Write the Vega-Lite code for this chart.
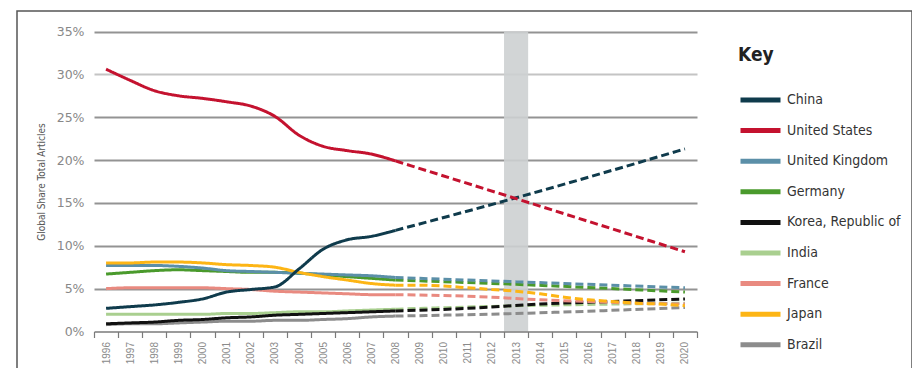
{
  "$schema": "https://vega.github.io/schema/vega-lite/v6.json",
  "autosize": "none",
  "padding": {"left": 17, "top": 11, "right": 0, "bottom": 0},
  "width": 895,
  "height": 370,
  "config": {
    "view": {"stroke": "#555555", "strokeWidth": 1.5},
    "font": "Liberation Sans"
  },
  "data": {
    "values": [
      {"country": "Brazil", "phase": "actual", "year": 1996, "share": 0.008},
      {"country": "Brazil", "phase": "actual", "year": 1997, "share": 0.009},
      {"country": "Brazil", "phase": "actual", "year": 1998, "share": 0.009},
      {"country": "Brazil", "phase": "actual", "year": 1999, "share": 0.010},
      {"country": "Brazil", "phase": "actual", "year": 2000, "share": 0.011},
      {"country": "Brazil", "phase": "actual", "year": 2001, "share": 0.012},
      {"country": "Brazil", "phase": "actual", "year": 2002, "share": 0.012},
      {"country": "Brazil", "phase": "actual", "year": 2003, "share": 0.013},
      {"country": "Brazil", "phase": "actual", "year": 2004, "share": 0.013},
      {"country": "Brazil", "phase": "actual", "year": 2005, "share": 0.014},
      {"country": "Brazil", "phase": "actual", "year": 2006, "share": 0.015},
      {"country": "Brazil", "phase": "actual", "year": 2007, "share": 0.017},
      {"country": "Brazil", "phase": "actual", "year": 2008, "share": 0.018},
      {"country": "Brazil", "phase": "projected", "year": 2008, "share": 0.018},
      {"country": "Brazil", "phase": "projected", "year": 2013, "share": 0.021},
      {"country": "Brazil", "phase": "projected", "year": 2020, "share": 0.028},

      {"country": "India", "phase": "actual", "year": 1996, "share": 0.020},
      {"country": "India", "phase": "actual", "year": 1997, "share": 0.020},
      {"country": "India", "phase": "actual", "year": 1998, "share": 0.020},
      {"country": "India", "phase": "actual", "year": 1999, "share": 0.020},
      {"country": "India", "phase": "actual", "year": 2000, "share": 0.020},
      {"country": "India", "phase": "actual", "year": 2001, "share": 0.021},
      {"country": "India", "phase": "actual", "year": 2002, "share": 0.021},
      {"country": "India", "phase": "actual", "year": 2003, "share": 0.022},
      {"country": "India", "phase": "actual", "year": 2004, "share": 0.023},
      {"country": "India", "phase": "actual", "year": 2005, "share": 0.023},
      {"country": "India", "phase": "actual", "year": 2006, "share": 0.024},
      {"country": "India", "phase": "actual", "year": 2007, "share": 0.025},
      {"country": "India", "phase": "actual", "year": 2008, "share": 0.026},
      {"country": "India", "phase": "projected", "year": 2008, "share": 0.026},
      {"country": "India", "phase": "projected", "year": 2013, "share": 0.030},
      {"country": "India", "phase": "projected", "year": 2020, "share": 0.033},

      {"country": "Korea, Republic of", "phase": "actual", "year": 1996, "share": 0.009},
      {"country": "Korea, Republic of", "phase": "actual", "year": 1997, "share": 0.010},
      {"country": "Korea, Republic of", "phase": "actual", "year": 1998, "share": 0.011},
      {"country": "Korea, Republic of", "phase": "actual", "year": 1999, "share": 0.013},
      {"country": "Korea, Republic of", "phase": "actual", "year": 2000, "share": 0.014},
      {"country": "Korea, Republic of", "phase": "actual", "year": 2001, "share": 0.016},
      {"country": "Korea, Republic of", "phase": "actual", "year": 2002, "share": 0.017},
      {"country": "Korea, Republic of", "phase": "actual", "year": 2003, "share": 0.019},
      {"country": "Korea, Republic of", "phase": "actual", "year": 2004, "share": 0.020},
      {"country": "Korea, Republic of", "phase": "actual", "year": 2005, "share": 0.021},
      {"country": "Korea, Republic of", "phase": "actual", "year": 2006, "share": 0.022},
      {"country": "Korea, Republic of", "phase": "actual", "year": 2007, "share": 0.023},
      {"country": "Korea, Republic of", "phase": "actual", "year": 2008, "share": 0.024},
      {"country": "Korea, Republic of", "phase": "projected", "year": 2008, "share": 0.024},
      {"country": "Korea, Republic of", "phase": "projected", "year": 2011, "share": 0.027},
      {"country": "Korea, Republic of", "phase": "projected", "year": 2014, "share": 0.032},
      {"country": "Korea, Republic of", "phase": "projected", "year": 2017, "share": 0.035},
      {"country": "Korea, Republic of", "phase": "projected", "year": 2020, "share": 0.038},

      {"country": "France", "phase": "actual", "year": 1996, "share": 0.050},
      {"country": "France", "phase": "actual", "year": 1997, "share": 0.051},
      {"country": "France", "phase": "actual", "year": 1998, "share": 0.051},
      {"country": "France", "phase": "actual", "year": 1999, "share": 0.051},
      {"country": "France", "phase": "actual", "year": 2000, "share": 0.051},
      {"country": "France", "phase": "actual", "year": 2001, "share": 0.050},
      {"country": "France", "phase": "actual", "year": 2002, "share": 0.049},
      {"country": "France", "phase": "actual", "year": 2003, "share": 0.047},
      {"country": "France", "phase": "actual", "year": 2004, "share": 0.046},
      {"country": "France", "phase": "actual", "year": 2005, "share": 0.045},
      {"country": "France", "phase": "actual", "year": 2006, "share": 0.044},
      {"country": "France", "phase": "actual", "year": 2007, "share": 0.043},
      {"country": "France", "phase": "actual", "year": 2008, "share": 0.043},
      {"country": "France", "phase": "projected", "year": 2008, "share": 0.043},
      {"country": "France", "phase": "projected", "year": 2010, "share": 0.042},
      {"country": "France", "phase": "projected", "year": 2012, "share": 0.040},
      {"country": "France", "phase": "projected", "year": 2014, "share": 0.037},
      {"country": "France", "phase": "projected", "year": 2016, "share": 0.035},
      {"country": "France", "phase": "projected", "year": 2018, "share": 0.033},
      {"country": "France", "phase": "projected", "year": 2020, "share": 0.032},

      {"country": "Germany", "phase": "actual", "year": 1996, "share": 0.067},
      {"country": "Germany", "phase": "actual", "year": 1997, "share": 0.069},
      {"country": "Germany", "phase": "actual", "year": 1998, "share": 0.071},
      {"country": "Germany", "phase": "actual", "year": 1999, "share": 0.072},
      {"country": "Germany", "phase": "actual", "year": 2000, "share": 0.071},
      {"country": "Germany", "phase": "actual", "year": 2001, "share": 0.070},
      {"country": "Germany", "phase": "actual", "year": 2002, "share": 0.069},
      {"country": "Germany", "phase": "actual", "year": 2003, "share": 0.069},
      {"country": "Germany", "phase": "actual", "year": 2004, "share": 0.068},
      {"country": "Germany", "phase": "actual", "year": 2005, "share": 0.066},
      {"country": "Germany", "phase": "actual", "year": 2006, "share": 0.064},
      {"country": "Germany", "phase": "actual", "year": 2007, "share": 0.062},
      {"country": "Germany", "phase": "actual", "year": 2008, "share": 0.060},
      {"country": "Germany", "phase": "projected", "year": 2008, "share": 0.060},
      {"country": "Germany", "phase": "projected", "year": 2013, "share": 0.055},
      {"country": "Germany", "phase": "projected", "year": 2020, "share": 0.046},

      {"country": "United Kingdom", "phase": "actual", "year": 1996, "share": 0.077},
      {"country": "United Kingdom", "phase": "actual", "year": 1997, "share": 0.077},
      {"country": "United Kingdom", "phase": "actual", "year": 1998, "share": 0.077},
      {"country": "United Kingdom", "phase": "actual", "year": 1999, "share": 0.076},
      {"country": "United Kingdom", "phase": "actual", "year": 2000, "share": 0.074},
      {"country": "United Kingdom", "phase": "actual", "year": 2001, "share": 0.071},
      {"country": "United Kingdom", "phase": "actual", "year": 2002, "share": 0.070},
      {"country": "United Kingdom", "phase": "actual", "year": 2003, "share": 0.069},
      {"country": "United Kingdom", "phase": "actual", "year": 2004, "share": 0.068},
      {"country": "United Kingdom", "phase": "actual", "year": 2005, "share": 0.067},
      {"country": "United Kingdom", "phase": "actual", "year": 2006, "share": 0.066},
      {"country": "United Kingdom", "phase": "actual", "year": 2007, "share": 0.065},
      {"country": "United Kingdom", "phase": "actual", "year": 2008, "share": 0.063},
      {"country": "United Kingdom", "phase": "projected", "year": 2008, "share": 0.063},
      {"country": "United Kingdom", "phase": "projected", "year": 2013, "share": 0.058},
      {"country": "United Kingdom", "phase": "projected", "year": 2020, "share": 0.051},

      {"country": "Japan", "phase": "actual", "year": 1996, "share": 0.080},
      {"country": "Japan", "phase": "actual", "year": 1997, "share": 0.080},
      {"country": "Japan", "phase": "actual", "year": 1998, "share": 0.081},
      {"country": "Japan", "phase": "actual", "year": 1999, "share": 0.081},
      {"country": "Japan", "phase": "actual", "year": 2000, "share": 0.080},
      {"country": "Japan", "phase": "actual", "year": 2001, "share": 0.078},
      {"country": "Japan", "phase": "actual", "year": 2002, "share": 0.077},
      {"country": "Japan", "phase": "actual", "year": 2003, "share": 0.075},
      {"country": "Japan", "phase": "actual", "year": 2004, "share": 0.069},
      {"country": "Japan", "phase": "actual", "year": 2005, "share": 0.064},
      {"country": "Japan", "phase": "actual", "year": 2006, "share": 0.060},
      {"country": "Japan", "phase": "actual", "year": 2007, "share": 0.056},
      {"country": "Japan", "phase": "actual", "year": 2008, "share": 0.054},
      {"country": "Japan", "phase": "projected", "year": 2008, "share": 0.054},
      {"country": "Japan", "phase": "projected", "year": 2009, "share": 0.054},
      {"country": "Japan", "phase": "projected", "year": 2010, "share": 0.053},
      {"country": "Japan", "phase": "projected", "year": 2011, "share": 0.051},
      {"country": "Japan", "phase": "projected", "year": 2012, "share": 0.049},
      {"country": "Japan", "phase": "projected", "year": 2013, "share": 0.047},
      {"country": "Japan", "phase": "projected", "year": 2014, "share": 0.044},
      {"country": "Japan", "phase": "projected", "year": 2015, "share": 0.040},
      {"country": "Japan", "phase": "projected", "year": 2016, "share": 0.037},
      {"country": "Japan", "phase": "projected", "year": 2017, "share": 0.035},
      {"country": "Japan", "phase": "projected", "year": 2018, "share": 0.033},
      {"country": "Japan", "phase": "projected", "year": 2019, "share": 0.032},
      {"country": "Japan", "phase": "projected", "year": 2020, "share": 0.030},

      {"country": "China", "phase": "actual", "year": 1996, "share": 0.027},
      {"country": "China", "phase": "actual", "year": 1997, "share": 0.029},
      {"country": "China", "phase": "actual", "year": 1998, "share": 0.031},
      {"country": "China", "phase": "actual", "year": 1999, "share": 0.034},
      {"country": "China", "phase": "actual", "year": 2000, "share": 0.038},
      {"country": "China", "phase": "actual", "year": 2001, "share": 0.046},
      {"country": "China", "phase": "actual", "year": 2002, "share": 0.049},
      {"country": "China", "phase": "actual", "year": 2003, "share": 0.052},
      {"country": "China", "phase": "actual", "year": 2004, "share": 0.073},
      {"country": "China", "phase": "actual", "year": 2005, "share": 0.096},
      {"country": "China", "phase": "actual", "year": 2006, "share": 0.107},
      {"country": "China", "phase": "actual", "year": 2007, "share": 0.111},
      {"country": "China", "phase": "actual", "year": 2008, "share": 0.118},
      {"country": "China", "phase": "projected", "year": 2008, "share": 0.118},
      {"country": "China", "phase": "projected", "year": 2013, "share": 0.156},
      {"country": "China", "phase": "projected", "year": 2020, "share": 0.213},

      {"country": "United States", "phase": "actual", "year": 1996, "share": 0.306},
      {"country": "United States", "phase": "actual", "year": 1997, "share": 0.293},
      {"country": "United States", "phase": "actual", "year": 1998, "share": 0.281},
      {"country": "United States", "phase": "actual", "year": 1999, "share": 0.275},
      {"country": "United States", "phase": "actual", "year": 2000, "share": 0.272},
      {"country": "United States", "phase": "actual", "year": 2001, "share": 0.268},
      {"country": "United States", "phase": "actual", "year": 2002, "share": 0.263},
      {"country": "United States", "phase": "actual", "year": 2003, "share": 0.251},
      {"country": "United States", "phase": "actual", "year": 2004, "share": 0.229},
      {"country": "United States", "phase": "actual", "year": 2005, "share": 0.216},
      {"country": "United States", "phase": "actual", "year": 2006, "share": 0.211},
      {"country": "United States", "phase": "actual", "year": 2007, "share": 0.207},
      {"country": "United States", "phase": "actual", "year": 2008, "share": 0.199},
      {"country": "United States", "phase": "projected", "year": 2008, "share": 0.199},
      {"country": "United States", "phase": "projected", "year": 2013, "share": 0.155},
      {"country": "United States", "phase": "projected", "year": 2020, "share": 0.093}
    ]
  },
  "layer": [
    {
      "data": {"values": [{"year": 2013}]},
      "mark": {"type": "rect", "color": "#cdd0d2", "opacity": 0.9},
      "encoding": {
        "x": {"field": "year", "type": "ordinal"},
        "y": {"datum": 0, "type": "quantitative"},
        "y2": {"datum": 0.35}
      }
    },
    {
      "mark": {"type": "line", "interpolate": "monotone", "strokeWidth": 3, "strokeCap": "butt"},
      "encoding": {
        "x": {
          "field": "year",
          "type": "ordinal",
          "bandPosition": 0.5,
          "scale": {"type": "band", "paddingInner": 0, "paddingOuter": 0, "range": [77, 680]},
          "axis": {
            "title": null,
            "orient": "bottom",
            "offset": -49.5,
            "tickBand": "extent",
            "labelAngle": -90,
            "labelFontSize": 10,
            "labelColor": "#8a8a8a",
            "labelPadding": 4,
            "domainColor": "#7a7a7a",
            "domainWidth": 1.5,
            "tickColor": "#7a7a7a",
            "tickWidth": 1.2,
            "tickSize": 6,
            "grid": false
          }
        },
        "y": {
          "field": "share",
          "type": "quantitative",
          "scale": {"domain": [0, 0.35], "range": [320.5, 20.5], "nice": false},
          "axis": {
            "title": "Global Share Total Articles",
            "titleFont": "DejaVu Sans Condensed, Roboto, sans-serif",
            "titleFontSize": 10,
            "titleFontWeight": "normal",
            "titleColor": "#555555",
            "titlePadding": 10,
            "offset": -76,
            "values": [0, 0.05, 0.1, 0.15, 0.2, 0.25, 0.3, 0.35],
            "format": ".0%",
            "labelFont": "DejaVu Sans",
            "labelFontSize": 12.5,
            "labelColor": "#888888",
            "labelPadding": 9,
            "domain": false,
            "ticks": false,
            "grid": true,
            "gridColor": {"condition": {"test": "datum.value === 0.3", "value": "#c4c4c4"}, "value": "#939393"},
            "gridWidth": {"condition": {"test": "datum.value === 0", "value": 0}, "value": 2}
          }
        },
        "color": {
          "field": "country",
          "type": "nominal",
          "scale": {
            "domain": ["China", "United States", "United Kingdom", "Germany", "Korea, Republic of", "India", "France", "Japan", "Brazil"],
            "range": ["#0f3b4c", "#c4122f", "#5b8fa8", "#4a9a2c", "#111111", "#a9cf8f", "#e98a80", "#fdb515", "#8c8c8c"]
          },
          "legend": {
            "orient": "none",
            "legendX": 721,
            "legendY": 35,
            "padding": 0,
            "title": "Key",
            "titleFont": "DejaVu Sans Condensed, Roboto, sans-serif",
            "titleFontSize": 19,
            "titleFontWeight": "bold",
            "titleColor": "#222222",
            "titlePadding": 26,
            "symbolType": "stroke",
            "symbolSize": 1600,
            "symbolStrokeWidth": 5,
            "clipHeight": 18,
            "rowPadding": 12.6,
            "labelFont": "DejaVu Sans Condensed, Roboto, sans-serif",
            "labelFontSize": 14,
            "labelColor": "#333333",
            "labelOffset": 4,
            "labelLimit": 200
          }
        },
        "strokeDash": {
          "field": "phase",
          "type": "nominal",
          "scale": {"domain": ["actual", "projected"], "range": [[1, 0], [8, 4]]},
          "legend": null
        }
      }
    }
  ]
}
